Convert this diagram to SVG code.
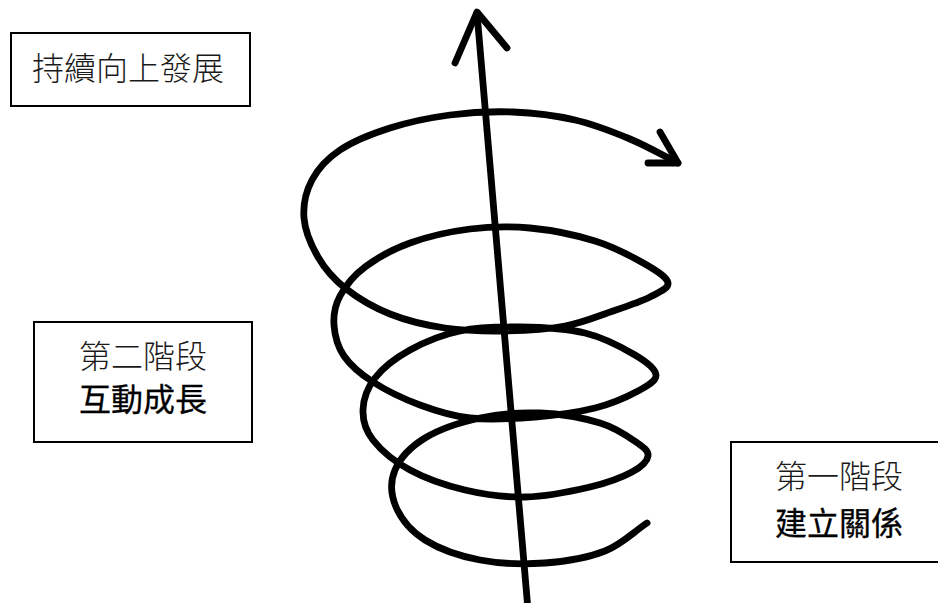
<svg xmlns="http://www.w3.org/2000/svg" width="938" height="603" viewBox="0 0 938 603">
<style>
.box{fill:#fff;stroke:#000;stroke-width:2}
.t{font-family:"Noto Sans CJK TC","Noto Sans CJK SC",sans-serif;font-size:32px;text-anchor:middle}
.thin{font-weight:300;fill:#1a1a1a}
.bold{font-weight:400;fill:#000;stroke:#000;stroke-width:0.3}
.ln{fill:none;stroke:#000;stroke-width:6.8;stroke-linecap:round;stroke-linejoin:round}
</style>
<rect width="938" height="603" fill="#fff"/>
<g id="connectors">
<path class="ln" d="M647,523 C633,532.3 622,544.3 605,551 S565.8,561.5 545,563 S500,563.8 480,560 S439,548.8 425,540 S401,518.7 396,507 S390.2,481.5 395,470 S410.8,446.7 425,438 S460.8,422.2 480,418 S520,412.2 540,413 S584,418.2 600,423 S628,436.5 636,442 S648.7,451 648,456 S641.7,466.8 632,472 S607.8,482.8 590,487 S545.8,496.5 525,497 S484.2,494.5 465,490 S425.3,478.3 410,470 S380.8,450 373,440 S362.7,420.3 363,410 S367.2,388 375,378 S395.8,357.8 410,350 S441.7,334.8 460,331 S499.2,326.7 520,327 S565.8,328.3 585,333 S623.2,348 635,355 S655.5,369 656,375 S648.2,385.5 638,391 S612.2,403.7 595,408 S555.8,415.3 535,417 S489.2,420 470,418 S436.2,411 420,405 S385.7,390.2 373,382 S350.5,365.5 344,356 S334.7,335 334,325 S334.8,305.7 340,296 S353.3,275.8 365,267 S392.5,249.3 410,243 S450,231.5 470,229 S509.2,226 530,228 S575.8,235 595,241 S632.8,257 645,264 S667.2,277.5 668,283 S659.2,292.3 650,297 S627.2,306.2 613,311 S583,322.7 565,326 S525,330.7 505,331 S464.2,330.8 445,328 S406.7,320.7 390,314 S357,297.5 345,288 S324.8,268.7 318,257 S305,230.8 304,218 S306,191.3 312,180 S327,158.7 340,150 S371.7,133.8 390,128 S429.5,117.7 450,115 S492.2,111.2 513,112 S555.5,115.5 575,120 S612.8,131.8 630,139 S662,155 678,163"/>
<polyline class="ln" points="648,163 678,163 660,132"/>
<line class="ln" x1="528" y1="610" x2="477" y2="13"/>
<polyline class="ln" points="455,63 477,12 507,48"/>
</g>
<g id="node-top">
<rect class="box" x="11" y="33" width="239" height="73"/>
<text class="t thin" x="128" y="80">持續向上發展</text>
</g>
<g id="node-stage2">
<rect class="box" x="34" y="322" width="218" height="120"/>
<text class="t thin" x="143" y="368">第二階段</text>
<text class="t bold" x="143" y="411">互動成長</text>
</g>
<g id="node-stage1">
<rect class="box" x="731" y="442" width="215" height="120"/>
<text class="t thin" x="839" y="488">第一階段</text>
<text class="t bold" x="839" y="535">建立關係</text>
</g>
</svg>
